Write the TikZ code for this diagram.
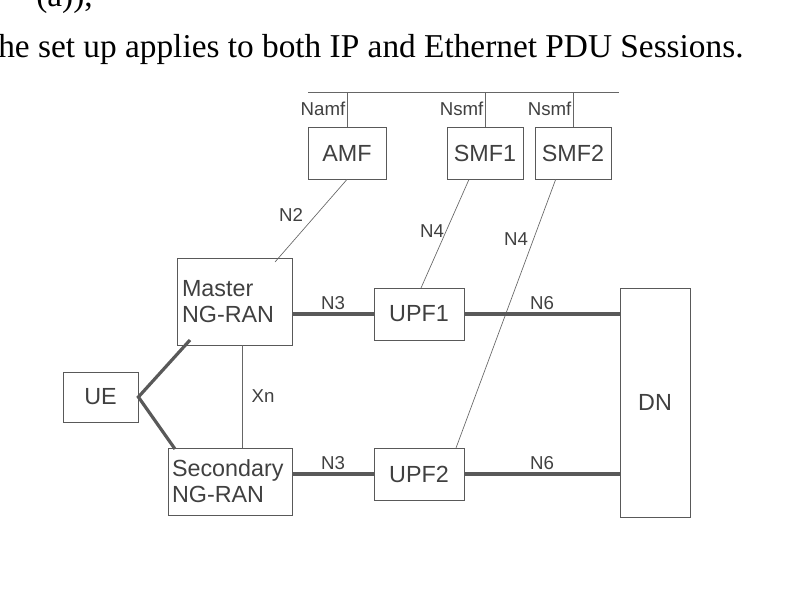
\documentclass[tikz,border=0pt]{standalone}
\usepackage{fontspec}
\setmainfont{Liberation Sans}
\newfontfamily\serifft{Liberation Serif}
\begin{document}
\begin{tikzpicture}[x=0.75pt,y=-0.75pt,
  box/.style={draw=black!65,line width=0.6pt,inner sep=0pt,font=\fontsize{17.5}{19.5}\selectfont,text=black!75},
  lbl/.style={font=\fontsize{14}{15}\selectfont,text=black!75,inner sep=1pt},
  thin/.style={draw=black!60,line width=0.5pt},
  thick/.style={draw=black!65,line width=2.4pt}]
\useasboundingbox (0,0) rectangle (812,611);
\node[anchor=base west,inner sep=0pt,font=\serifft\fontsize{25}{27}\selectfont] (cap) at (-2,57) {he set up applies to both IP and Ethernet PDU Sessions.};
\node[anchor=base west,inner sep=0pt,font=\serifft\fontsize{25}{27}\selectfont] (cap0) at (36,6) {(a)),};
\node[box,minimum width=0.75*78pt,minimum height=0.75*52pt] (amf) at (347,153) {AMF};
\node[box,minimum width=0.75*76pt,minimum height=0.75*52pt] (smf1) at (485,153) {SMF1};
\node[box,minimum width=0.75*76pt,minimum height=0.75*52pt] (smf2) at (573,153) {SMF2};
\node[box,minimum width=0.75*115pt,minimum height=0.75*87pt,align=left,text width=0.75*105pt] (master) at (234.5,302) {Master\\NG-RAN};
\node[box,minimum width=0.75*124pt,minimum height=0.75*67pt,align=left,text width=0.75*116pt] (sec) at (230,481.5) {Secondary\\NG-RAN};
\node[box,minimum width=0.75*90pt,minimum height=0.75*52pt] (upf1) at (419,314) {UPF1};
\node[box,minimum width=0.75*90pt,minimum height=0.75*52pt] (upf2) at (419,474) {UPF2};
\node[box,minimum width=0.75*75pt,minimum height=0.75*50pt] (ue) at (100.5,397) {UE};
\node[box,minimum width=0.75*70pt,minimum height=0.75*229pt] (dn) at (655,402.5) {DN};
\coordinate (tl) at (308,92); \coordinate (tr) at (619,92);
\draw[thin] (tl) -- (tr);
\draw[thin] (amf.north) -- (amf.north |- tl) node[lbl,pos=0.5,left] {Namf};
\draw[thin] (smf1.north) -- (smf1.north |- tl) node[lbl,pos=0.5,left] {Nsmf};
\draw[thin] (smf2.north) -- (smf2.north |- tl) node[lbl,pos=0.5,left] {Nsmf};
\coordinate (m1) at (275,262);
\draw[thin] (amf.south) -- (m1);
\node[lbl] (n2) at (291,215) {N2};
\draw[thin] ([xshift=-12]smf1.south) -- (421,288);
\node[lbl] (n4a) at (432,231) {N4};
\draw[thin] ([xshift=-13]smf2.south) -- (456,448);
\node[lbl] (n4b) at (516,239) {N4};
\draw[thin] (242,345) -- (242,448);
\node[lbl] (xn) at (263,396) {Xn};
\draw[thick] (master.east |- upf1) -- (upf1.west) node[lbl,midway,above=1pt] {N3};
\draw[thick] (upf1.east) -- (dn.west |- upf1) node[lbl,pos=0.5,above=1pt] {N6};
\draw[thick] (sec.east |- upf2) -- (upf2.west) node[lbl,midway,above=1pt] {N3};
\draw[thick] (upf2.east) -- (dn.west |- upf2) node[lbl,pos=0.5,above=1pt] {N6};
\draw[thick] (190,340) -- (ue.east) -- (175,449);
\end{tikzpicture}
\end{document}
